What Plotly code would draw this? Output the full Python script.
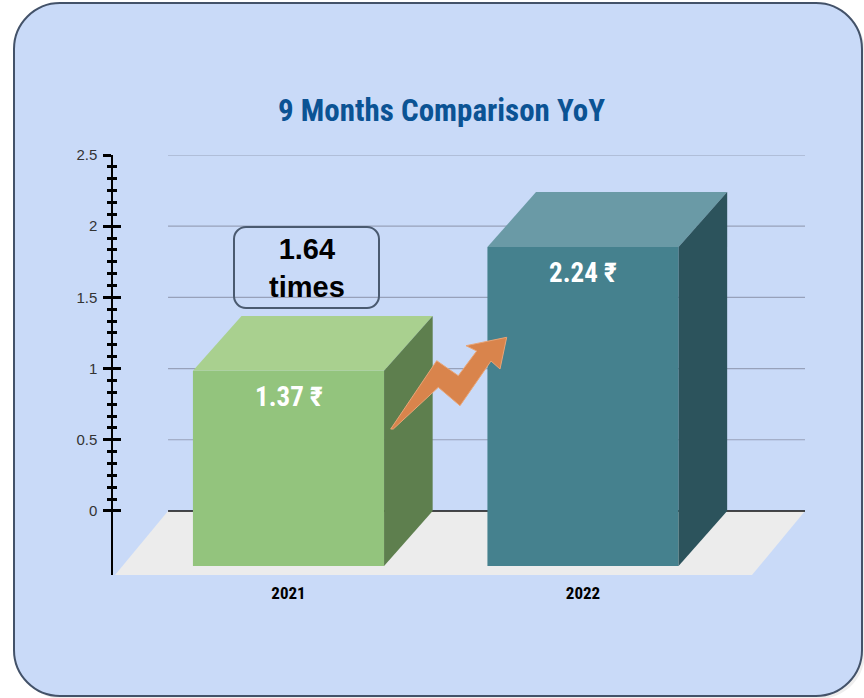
import plotly.graph_objects as go

# ---- data -------------------------------------------------------------
categories = ["2021", "2022"]
values = [1.37, 2.24]
front_colors = ["#93c47d", "#45818e"]
top_colors = ["#a9d08f", "#6a9aa6"]
side_colors = ["#5e7f4e", "#2c535c"]
y_tick_vals = [0, 0.5, 1, 1.5, 2, 2.5]
y_tick_text = ["0", "0.5", "1", "1.5", "2", "2.5"]
title_text = "9 Months Comparison YoY"
currency = "₹"

# ---- geometry ---------------------------------------------------------
W, H = 864, 698
ML, MR, MT, MB = 113, 59, 155, 123
PLOT_W, PLOT_H = W - ML - MR, H - MT - MB
X_RANGE = [-0.5959, 1.7538]
Y_RANGE = [-0.45, 2.5]

BAR_W = 0.649        # front face width (category units)
DEPTH_X = 0.165      # 3D depth offset, x
DEPTH_Y = 0.386      # 3D depth offset, y
FLOOR_LEFT = -0.409
FLOOR_DX = 0.18
FLOOR_DY = -Y_RANGE[0]

NARROW = "Liberation Sans Narrow, Arial Narrow, Roboto Condensed, Roboto, sans-serif"
REGULAR = "Liberation Sans, Arial, Helvetica, sans-serif"


def px_x(px):
    return (px - ML) / PLOT_W


def px_y(py):
    return (H - MB - py) / PLOT_H


def rounded_rect(x0, y0, x1, y1, r):
    """SVG path (paper coords) of a rounded rectangle given in pixels."""
    k = 0.5523 * r
    pts = [
        f"M{px_x(x0 + r)},{px_y(y0)}",
        f"L{px_x(x1 - r)},{px_y(y0)}",
        f"C{px_x(x1 - r + k)},{px_y(y0)} {px_x(x1)},{px_y(y0 + r - k)} {px_x(x1)},{px_y(y0 + r)}",
        f"L{px_x(x1)},{px_y(y1 - r)}",
        f"C{px_x(x1)},{px_y(y1 - r + k)} {px_x(x1 - r + k)},{px_y(y1)} {px_x(x1 - r)},{px_y(y1)}",
        f"L{px_x(x0 + r)},{px_y(y1)}",
        f"C{px_x(x0 + r - k)},{px_y(y1)} {px_x(x0)},{px_y(y1 - r + k)} {px_x(x0)},{px_y(y1 - r)}",
        f"L{px_x(x0)},{px_y(y0 + r)}",
        f"C{px_x(x0)},{px_y(y0 + r - k)} {px_x(x0 + r - k)},{px_y(y0)} {px_x(x0 + r)},{px_y(y0)}",
        "Z",
    ]
    return " ".join(pts)


def poly(xs, ys, color):
    return go.Scatter(
        x=xs + [xs[0]], y=ys + [ys[0]], mode="lines", fill="toself",
        fillcolor=color, line=dict(width=0, color=color),
        hoverinfo="skip", showlegend=False,
    )


fig = go.Figure()

# floor
x_right = X_RANGE[1]
fig.add_trace(poly(
    [FLOOR_LEFT, x_right, x_right - FLOOR_DX, FLOOR_LEFT - FLOOR_DX],
    [0, 0, -FLOOR_DY, -FLOOR_DY], "#ececec"))

# back-wall gridlines and baseline
gx, gy = [], []
for v in y_tick_vals[1:]:
    gx += [FLOOR_LEFT, x_right, None]
    gy += [v, v, None]
fig.add_trace(go.Scatter(x=gx, y=gy, mode="lines",
                         line=dict(color="#97a1ba", width=1.2),
                         hoverinfo="skip", showlegend=False))
fig.add_trace(go.Scatter(x=[FLOOR_LEFT, x_right], y=[0, 0], mode="lines",
                         line=dict(color="#111111", width=1.5),
                         hoverinfo="skip", showlegend=False))

# 3D bars
for i, v in enumerate(values):
    xl, xr = i - BAR_W / 2, i + BAR_W / 2
    ft = v - DEPTH_Y
    fig.add_trace(poly([xl, xr, xr, xl], [-DEPTH_Y, -DEPTH_Y, ft, ft], front_colors[i]))
    fig.add_trace(poly([xl, xr, xr + DEPTH_X, xl + DEPTH_X], [ft, ft, v, v], top_colors[i]))
    fig.add_trace(poly([xr, xr + DEPTH_X, xr + DEPTH_X, xr], [-DEPTH_Y, 0, v, ft], side_colors[i]))
    fig.add_annotation(
        x=i, y=ft - 0.185, xref="x", yref="y", showarrow=False,
        text=f"{v:.2f} {currency}",
        font=dict(family=NARROW, size=27, color="white", weight="bold"),
    )

# dummy trace so the overlaid tick axis is rendered
fig.add_trace(go.Scatter(x=[0], y=[0], yaxis="y2", mode="markers",
                         marker=dict(opacity=0), hoverinfo="skip", showlegend=False))

minor_vals = [k / 12 for k in range(1, 30) if k % 6]
tick_common = dict(
    range=Y_RANGE, tickmode="array", tickvals=y_tick_vals,
    ticklen=8, tickwidth=3, tickcolor="black",
    showgrid=False, zeroline=False, fixedrange=True,
)

fig.update_layout(
    width=W, height=H, autosize=False,
    margin=dict(l=ML, r=MR, t=MT, b=MB, pad=0),
    paper_bgcolor="white", plot_bgcolor="rgba(0,0,0,0)",
    showlegend=False,
    xaxis=dict(
        range=X_RANGE, tickmode="array", tickvals=list(range(len(categories))),
        ticktext=categories, showline=False, showgrid=False, zeroline=False,
        ticks="", ticklabelstandoff=6,
        tickfont=dict(family=NARROW, size=17, color="black", weight="bold"),
    ),
    yaxis=dict(
        **tick_common, ticktext=y_tick_text, ticks="outside",
        showline=True, linecolor="black", linewidth=1.5,
        tickfont=dict(family=REGULAR, size=15, color="#333333"),
        ticklabelstandoff=3,
        minor=dict(tickmode="array", tickvals=minor_vals, ticks="outside",
                   ticklen=4, tickwidth=2.5, tickcolor="black"),
    ),
    yaxis2=dict(
        **tick_common, overlaying="y", side="left", anchor="x", ticks="inside",
        showticklabels=False, showline=False,
        minor=dict(tickmode="array", tickvals=minor_vals, ticks="inside",
                   ticklen=4, tickwidth=2.5, tickcolor="black"),
    ),
)

# card background with soft shadow and border
fig.add_shape(type="path", xref="paper", yref="paper", layer="below",
              path=rounded_rect(17, 6, 865, 699, 46),
              fillcolor="#eeeeee", line=dict(width=0))
fig.add_shape(type="path", xref="paper", yref="paper", layer="below",
              path=rounded_rect(14, 3, 862, 696, 46),
              fillcolor="#c9daf8", line=dict(color="#435269", width=2))

# title
fig.add_annotation(
    x=px_x(441), y=px_y(111), xref="paper", yref="paper", showarrow=False,
    xanchor="center", yanchor="middle", text=title_text,
    font=dict(family=NARROW, size=31, color="#0b5394", weight="bold"),
)

# growth callout box
ratio = values[1] / values[0]
fig.add_shape(type="path", xref="paper", yref="paper", layer="above",
              path=rounded_rect(234, 227, 379, 308, 12),
              fillcolor="rgba(0,0,0,0)", line=dict(color="#4a5a70", width=2))
fig.add_annotation(
    x=px_x(307), y=px_y(268), xref="paper", yref="paper", showarrow=False,
    xanchor="center", yanchor="middle",
    text=f"{ratio:.2f}<br>times",
    font=dict(family=REGULAR, size=29, color="black", weight="bold"),
)

# zig-zag growth arrow between the bars
arrow_px = [(390.7, 429), (436.7, 360.7), (458.3, 375.7), (476.7, 351),
            (466, 345.7), (506.7, 337.3), (500, 369), (491, 361),
            (460, 405.7), (438.3, 387.3), (393.3, 429)]
arrow_path = "M" + " L".join(f"{px_x(a)},{px_y(b)}" for a, b in arrow_px) + " Z"
fig.add_shape(type="path", xref="paper", yref="paper", layer="above",
              path=arrow_path, fillcolor="#d9844c",
              line=dict(color="#e9a577", width=1))

fig.write_html("out.html")
